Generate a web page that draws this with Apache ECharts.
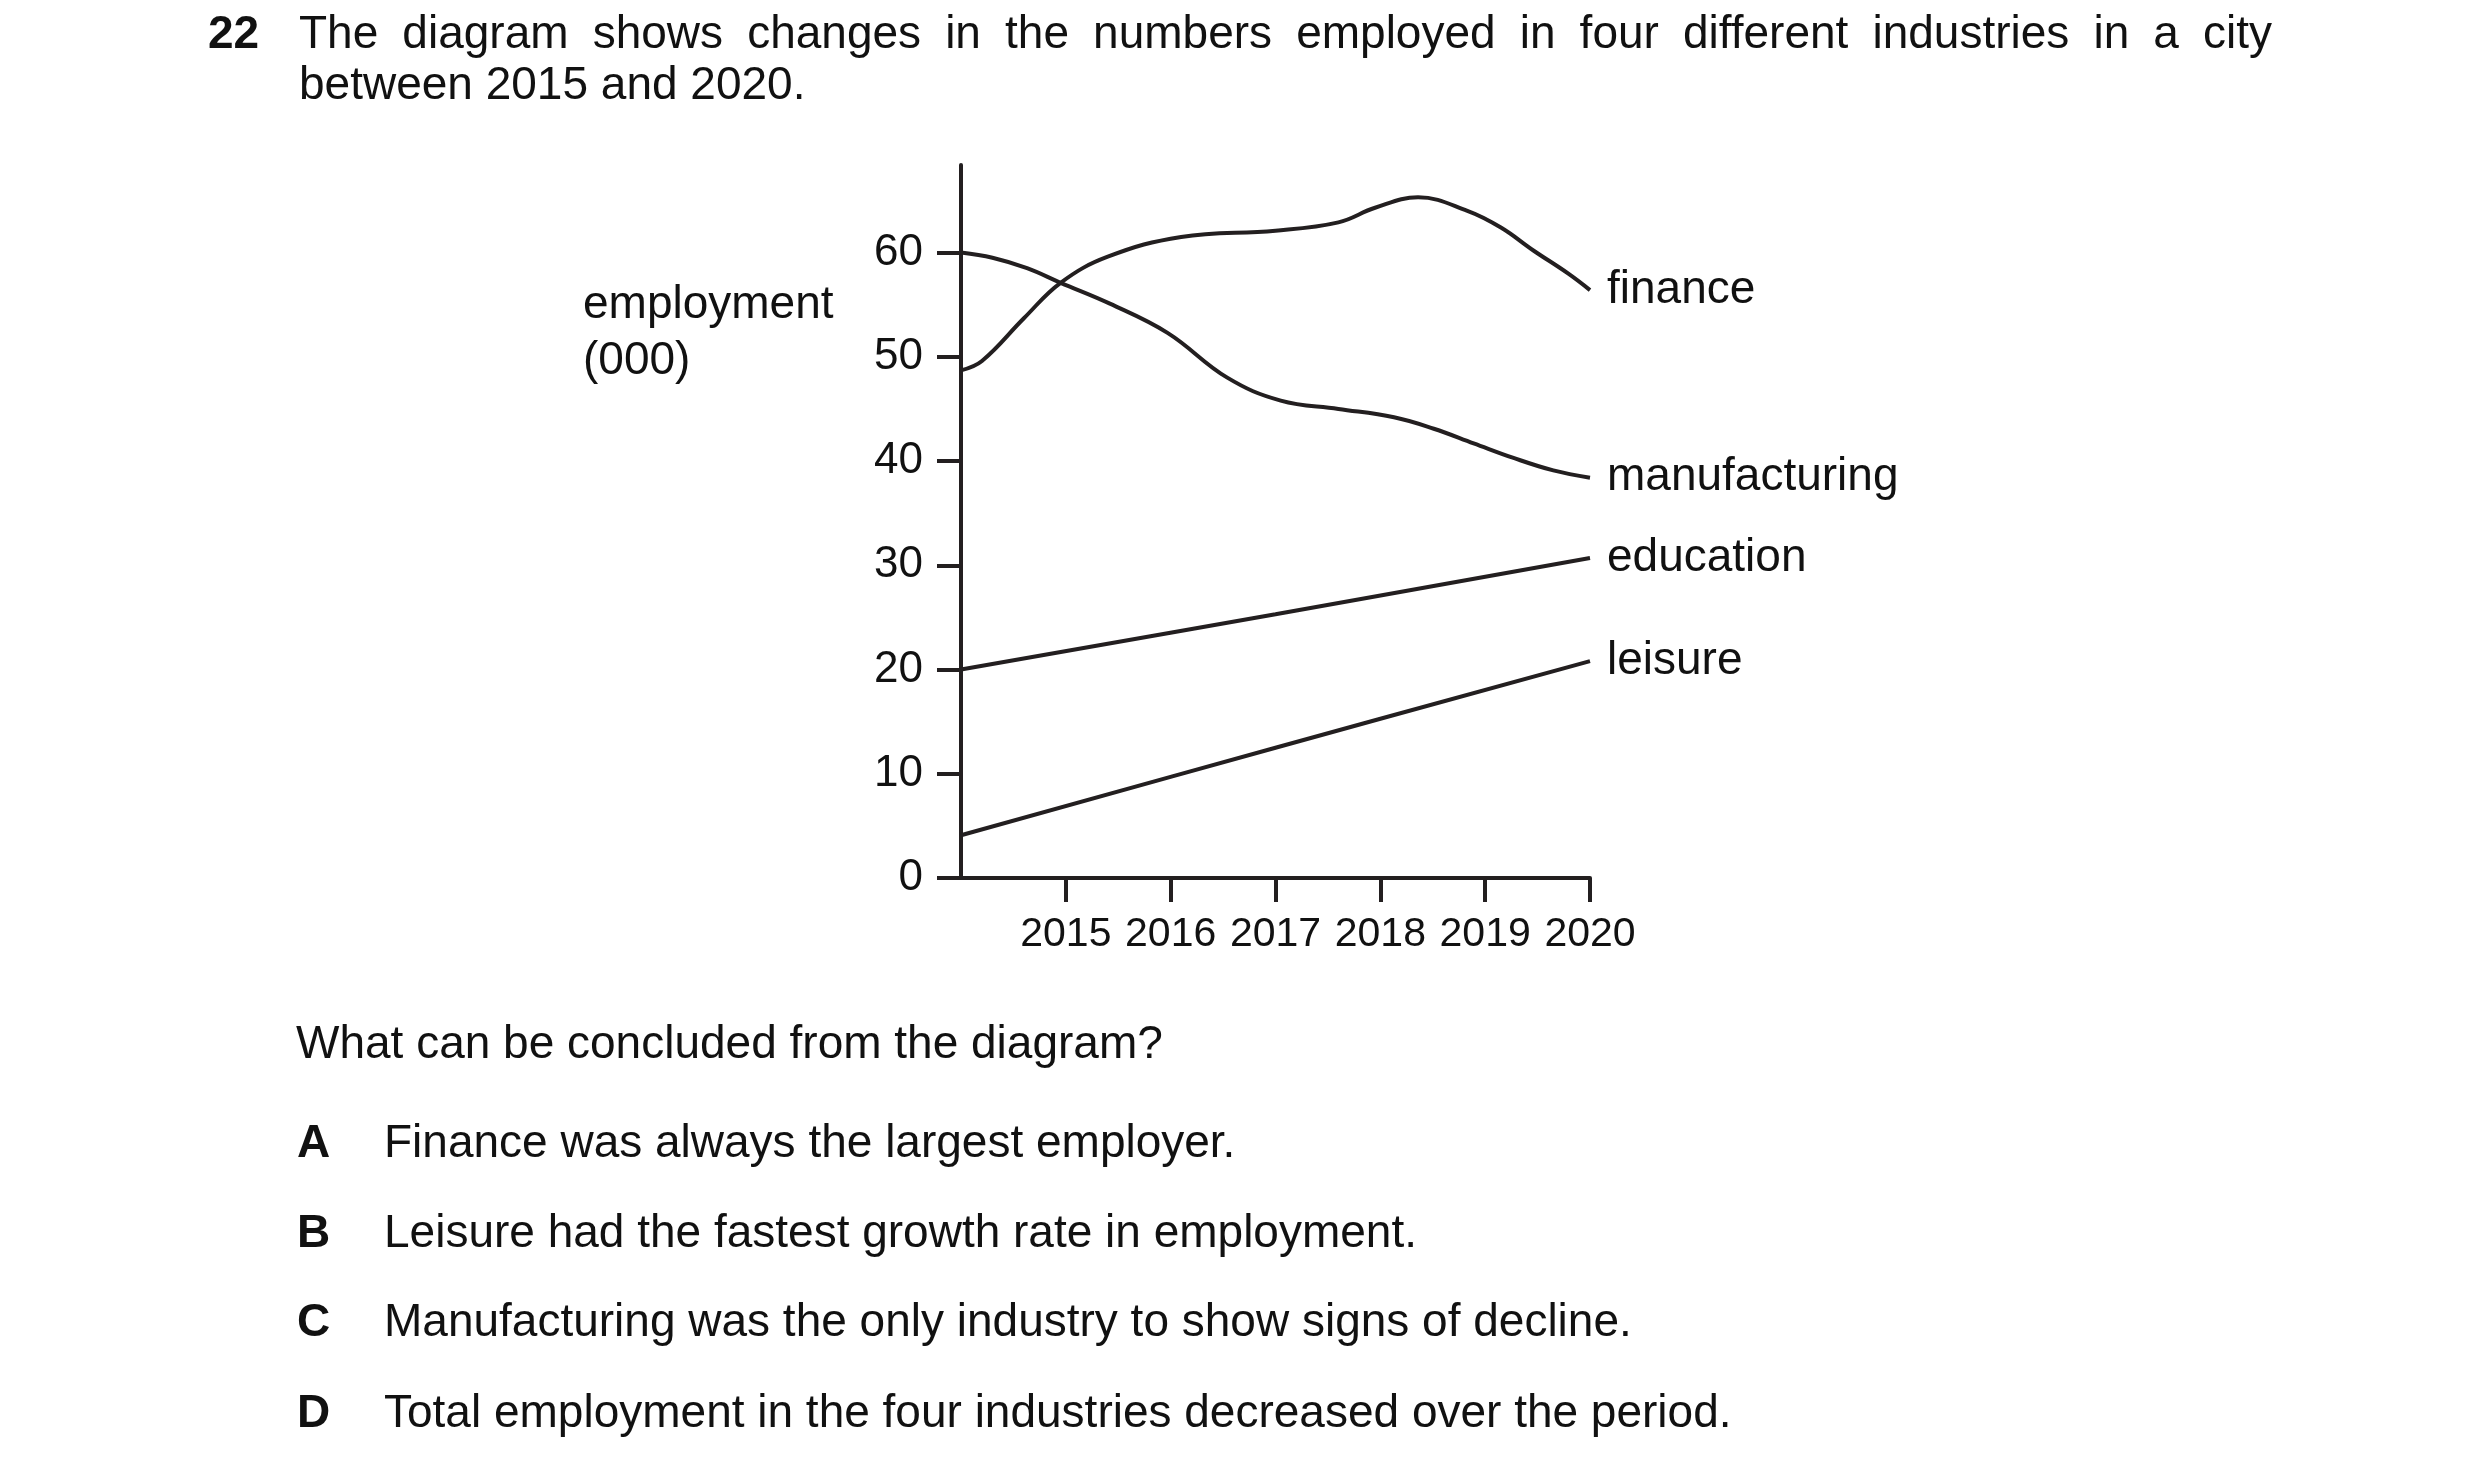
<!DOCTYPE html>
<html>
<head>
<meta charset="utf-8">
<script src="https://cdn.jsdelivr.net/npm/echarts@6/dist/echarts.min.js"></script>
<style>
  html, body { margin: 0; padding: 0; background: #fff; }
  #main { width: 2480px; height: 1475px; }
</style>
</head>
<body>
<div id="main"></div>
<script>
// values (employment in thousands)
var financeYears = [2014, 2014.2, 2014.6, 2014.95, 2015.4, 2016.1, 2017, 2017.6, 2017.95, 2018.36, 2018.83, 2019.15, 2019.46, 2019.79, 2020];
var financeValues = [48.7, 49.6, 53.7, 57.1, 59.6, 61.5, 62.1, 62.9, 64.3, 65.3, 64.0, 62.4, 60.2, 58.0, 56.4];

var manufYears = [2014, 2014.3, 2014.63, 2014.95, 2015.42, 2015.97, 2016.54, 2017.05, 2017.6, 2018.13, 2018.51, 2018.89, 2019.27, 2019.65, 2020];
var manufValues = [60.0, 59.5, 58.5, 57.1, 55.1, 52.3, 48.0, 45.8, 45.0, 44.2, 43.1, 41.7, 40.3, 39.1, 38.4];

var educationYears = [2014, 2017, 2020];
var educationValues = [20.0, 25.3, 30.7];

var leisureYears = [2014, 2017, 2020];
var leisureValues = [4.1, 12.5, 20.8];

var yearTicks = [2015, 2016, 2017, 2018, 2019, 2020];
var employmentTicks = [0, 10, 20, 30, 40, 50, 60];

var titleLine1 = 'The diagram shows changes in the numbers employed in four different industries in a city';
var titleLine2 = 'between 2015 and 2020.';
var question = 'What can be concluded from the diagram?';
var optionLetters = ['A', 'B', 'C', 'D'];
var optionTexts = [
    'Finance was always the largest employer.',
    'Leisure had the fastest growth rate in employment.',
    'Manufacturing was the only industry to show signs of decline.',
    'Total employment in the four industries decreased over the period.'
];

var FONT = '"Liberation Sans", Arial, sans-serif';
var INK = '#231f20';
var TEXT = '#111';

function pairs(xs, ys) {
    return xs.map(function (x, i) { return [x, ys[i]]; });
}

function txt(x, y, text, size, bold) {
    return {
        type: 'text',
        x: x,
        y: y,
        style: {
            text: text,
            fill: TEXT,
            font: (bold ? 'bold ' : '') + size + 'px ' + FONT,
            verticalAlign: 'middle',
            align: 'left'
        }
    };
}

// justified first line of the question stem
function justified(line, left, right, y, size) {
    var ctx = document.createElement('canvas').getContext('2d');
    ctx.font = size + 'px ' + FONT;
    var words = line.split(' ');
    var widths = words.map(function (w) { return ctx.measureText(w).width; });
    var total = widths.reduce(function (a, b) { return a + b; }, 0);
    var gap = (right - left - total) / (words.length - 1);
    var out = [];
    var x = left;
    words.forEach(function (w, i) {
        out.push(txt(x, y, w, size));
        x += widths[i] + gap;
    });
    return out;
}

var graphics = [];
graphics.push(txt(208, 35, '22', 46, true));
graphics = graphics.concat(justified(titleLine1, 299, 2272, 35, 46));
graphics.push(txt(299, 86, titleLine2, 46));
graphics.push(txt(583, 305, 'employment', 46));
graphics.push(txt(583, 361, '(000)', 46));
graphics.push(txt(296, 1045, question, 46));
var optionY = [1144, 1234, 1323, 1414];
optionLetters.forEach(function (l, i) {
    graphics.push(txt(297, optionY[i], l, 46, true));
    graphics.push(txt(384, optionY[i], optionTexts[i], 46));
});

var myChart = echarts.init(document.getElementById('main'), null, { renderer: 'canvas' });

function lineSeries(name, data) {
    return {
        name: name,
        type: 'line',
        data: data,
        smooth: 0.4,
        showSymbol: false,
        symbol: 'none',
        clip: false,
        lineStyle: { color: INK, width: 4 },
        endLabel: {
            show: true,
            formatter: '{a}',
            distance: 17,
            color: TEXT,
            fontSize: 46,
            fontFamily: FONT
        },
        emphasis: { disabled: true }
    };
}

var option = {
    animation: false,
    backgroundColor: '#fff',
    grid: {
        left: 961,
        right: 890,
        top: 165,
        bottom: 597
    },
    xAxis: {
        type: 'value',
        min: 2014,
        max: 2020,
        interval: 1,
        axisLine: { show: true, onZero: false, lineStyle: { color: INK, width: 4 } },
        axisTick: { show: true, length: 24, lineStyle: { color: INK, width: 4 }, customValues: yearTicks },
        axisLabel: {
            color: TEXT, fontSize: 41, fontFamily: FONT, margin: 36, customValues: yearTicks,
            formatter: function (v) { return String(v); }
        },
        splitLine: { show: false }
    },
    yAxis: {
        type: 'value',
        min: 0,
        max: 68.4,
        interval: 10,
        axisLine: { show: true, lineStyle: { color: INK, width: 4 } },
        axisTick: { show: true, length: 24, lineStyle: { color: INK, width: 4 }, customValues: employmentTicks },
        axisLabel: { color: TEXT, fontSize: 44, fontFamily: FONT, margin: 38, customValues: employmentTicks },
        splitLine: { show: false }
    },
    series: [
        lineSeries('finance', pairs(financeYears, financeValues)),
        lineSeries('manufacturing', pairs(manufYears, manufValues)),
        lineSeries('education', pairs(educationYears, educationValues)),
        lineSeries('leisure', pairs(leisureYears, leisureValues))
    ],
    graphic: graphics
};
myChart.setOption(option);
</script>
</body>
</html>
